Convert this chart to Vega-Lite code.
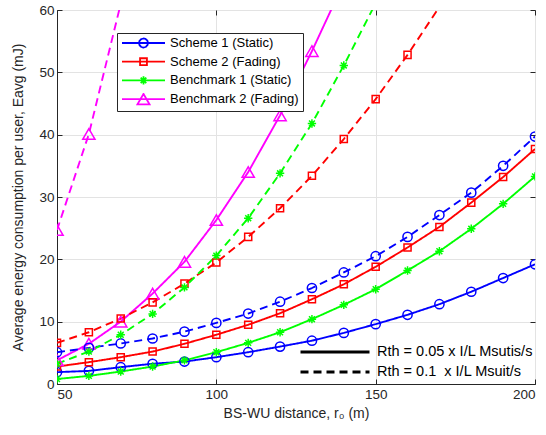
{
  "$schema": "https://vega.github.io/schema/vega-lite/v6.json",
  "autosize": "none",
  "width": 478,
  "height": 374,
  "padding": {"left": 57, "top": 10, "right": 11, "bottom": 51},
  "background": "white",
  "config": {
    "font": "Liberation Sans",
    "view": {"stroke": "#262626", "strokeWidth": 1},
    "axis": {
      "labelColor": "#262626", "titleColor": "#262626", "domainColor": "#262626", "tickColor": "#262626",
      "gridColor": "#e3e3e3", "titleFontWeight": "normal", "labelFontSize": 13.5, "titleFontSize": 14,
      "labelFont": "Liberation Sans", "titleFont": "Liberation Sans"
    },
    "legend": {"labelFont": "Liberation Sans"}
  },
  "resolve": {"axis": {"x": "independent", "y": "independent"}},
  "data": {"values": [
    {"x": 50, "y": 1.9, "s": "Scheme 1 (Static)", "r": "Rth = 0.05 x I/L Msutis/s"},
    {"x": 60, "y": 2.1, "s": "Scheme 1 (Static)", "r": "Rth = 0.05 x I/L Msutis/s"},
    {"x": 70, "y": 2.7, "s": "Scheme 1 (Static)", "r": "Rth = 0.05 x I/L Msutis/s"},
    {"x": 80, "y": 3.25, "s": "Scheme 1 (Static)", "r": "Rth = 0.05 x I/L Msutis/s"},
    {"x": 90, "y": 3.6, "s": "Scheme 1 (Static)", "r": "Rth = 0.05 x I/L Msutis/s"},
    {"x": 100, "y": 4.3, "s": "Scheme 1 (Static)", "r": "Rth = 0.05 x I/L Msutis/s"},
    {"x": 110, "y": 5.1, "s": "Scheme 1 (Static)", "r": "Rth = 0.05 x I/L Msutis/s"},
    {"x": 120, "y": 6.0, "s": "Scheme 1 (Static)", "r": "Rth = 0.05 x I/L Msutis/s"},
    {"x": 130, "y": 6.95, "s": "Scheme 1 (Static)", "r": "Rth = 0.05 x I/L Msutis/s"},
    {"x": 140, "y": 8.2, "s": "Scheme 1 (Static)", "r": "Rth = 0.05 x I/L Msutis/s"},
    {"x": 150, "y": 9.6, "s": "Scheme 1 (Static)", "r": "Rth = 0.05 x I/L Msutis/s"},
    {"x": 160, "y": 11.1, "s": "Scheme 1 (Static)", "r": "Rth = 0.05 x I/L Msutis/s"},
    {"x": 170, "y": 12.8, "s": "Scheme 1 (Static)", "r": "Rth = 0.05 x I/L Msutis/s"},
    {"x": 180, "y": 14.8, "s": "Scheme 1 (Static)", "r": "Rth = 0.05 x I/L Msutis/s"},
    {"x": 190, "y": 17.0, "s": "Scheme 1 (Static)", "r": "Rth = 0.05 x I/L Msutis/s"},
    {"x": 200, "y": 19.2, "s": "Scheme 1 (Static)", "r": "Rth = 0.05 x I/L Msutis/s"},

    {"x": 50, "y": 2.8, "s": "Scheme 2 (Fading)", "r": "Rth = 0.05 x I/L Msutis/s"},
    {"x": 60, "y": 3.5, "s": "Scheme 2 (Fading)", "r": "Rth = 0.05 x I/L Msutis/s"},
    {"x": 70, "y": 4.3, "s": "Scheme 2 (Fading)", "r": "Rth = 0.05 x I/L Msutis/s"},
    {"x": 80, "y": 5.2, "s": "Scheme 2 (Fading)", "r": "Rth = 0.05 x I/L Msutis/s"},
    {"x": 90, "y": 6.45, "s": "Scheme 2 (Fading)", "r": "Rth = 0.05 x I/L Msutis/s"},
    {"x": 100, "y": 7.9, "s": "Scheme 2 (Fading)", "r": "Rth = 0.05 x I/L Msutis/s"},
    {"x": 110, "y": 9.5, "s": "Scheme 2 (Fading)", "r": "Rth = 0.05 x I/L Msutis/s"},
    {"x": 120, "y": 11.35, "s": "Scheme 2 (Fading)", "r": "Rth = 0.05 x I/L Msutis/s"},
    {"x": 130, "y": 13.6, "s": "Scheme 2 (Fading)", "r": "Rth = 0.05 x I/L Msutis/s"},
    {"x": 140, "y": 16.0, "s": "Scheme 2 (Fading)", "r": "Rth = 0.05 x I/L Msutis/s"},
    {"x": 150, "y": 18.8, "s": "Scheme 2 (Fading)", "r": "Rth = 0.05 x I/L Msutis/s"},
    {"x": 160, "y": 21.9, "s": "Scheme 2 (Fading)", "r": "Rth = 0.05 x I/L Msutis/s"},
    {"x": 170, "y": 25.2, "s": "Scheme 2 (Fading)", "r": "Rth = 0.05 x I/L Msutis/s"},
    {"x": 180, "y": 29.1, "s": "Scheme 2 (Fading)", "r": "Rth = 0.05 x I/L Msutis/s"},
    {"x": 190, "y": 33.2, "s": "Scheme 2 (Fading)", "r": "Rth = 0.05 x I/L Msutis/s"},
    {"x": 200, "y": 37.7, "s": "Scheme 2 (Fading)", "r": "Rth = 0.05 x I/L Msutis/s"},

    {"x": 50, "y": 0.8, "s": "Benchmark 1 (Static)", "r": "Rth = 0.05 x I/L Msutis/s"},
    {"x": 60, "y": 1.3, "s": "Benchmark 1 (Static)", "r": "Rth = 0.05 x I/L Msutis/s"},
    {"x": 70, "y": 2.0, "s": "Benchmark 1 (Static)", "r": "Rth = 0.05 x I/L Msutis/s"},
    {"x": 80, "y": 2.8, "s": "Benchmark 1 (Static)", "r": "Rth = 0.05 x I/L Msutis/s"},
    {"x": 90, "y": 3.8, "s": "Benchmark 1 (Static)", "r": "Rth = 0.05 x I/L Msutis/s"},
    {"x": 100, "y": 5.1, "s": "Benchmark 1 (Static)", "r": "Rth = 0.05 x I/L Msutis/s"},
    {"x": 110, "y": 6.6, "s": "Benchmark 1 (Static)", "r": "Rth = 0.05 x I/L Msutis/s"},
    {"x": 120, "y": 8.3, "s": "Benchmark 1 (Static)", "r": "Rth = 0.05 x I/L Msutis/s"},
    {"x": 130, "y": 10.4, "s": "Benchmark 1 (Static)", "r": "Rth = 0.05 x I/L Msutis/s"},
    {"x": 140, "y": 12.7, "s": "Benchmark 1 (Static)", "r": "Rth = 0.05 x I/L Msutis/s"},
    {"x": 150, "y": 15.2, "s": "Benchmark 1 (Static)", "r": "Rth = 0.05 x I/L Msutis/s"},
    {"x": 160, "y": 18.2, "s": "Benchmark 1 (Static)", "r": "Rth = 0.05 x I/L Msutis/s"},
    {"x": 170, "y": 21.3, "s": "Benchmark 1 (Static)", "r": "Rth = 0.05 x I/L Msutis/s"},
    {"x": 180, "y": 24.9, "s": "Benchmark 1 (Static)", "r": "Rth = 0.05 x I/L Msutis/s"},
    {"x": 190, "y": 28.9, "s": "Benchmark 1 (Static)", "r": "Rth = 0.05 x I/L Msutis/s"},
    {"x": 200, "y": 33.3, "s": "Benchmark 1 (Static)", "r": "Rth = 0.05 x I/L Msutis/s"},

    {"x": 50, "y": 3.8, "s": "Benchmark 2 (Fading)", "r": "Rth = 0.05 x I/L Msutis/s"},
    {"x": 60, "y": 6.45, "s": "Benchmark 2 (Fading)", "r": "Rth = 0.05 x I/L Msutis/s"},
    {"x": 70, "y": 10.0, "s": "Benchmark 2 (Fading)", "r": "Rth = 0.05 x I/L Msutis/s"},
    {"x": 80, "y": 14.5, "s": "Benchmark 2 (Fading)", "r": "Rth = 0.05 x I/L Msutis/s"},
    {"x": 90, "y": 19.6, "s": "Benchmark 2 (Fading)", "r": "Rth = 0.05 x I/L Msutis/s"},
    {"x": 100, "y": 26.3, "s": "Benchmark 2 (Fading)", "r": "Rth = 0.05 x I/L Msutis/s"},
    {"x": 110, "y": 34.0, "s": "Benchmark 2 (Fading)", "r": "Rth = 0.05 x I/L Msutis/s"},
    {"x": 120, "y": 43.1, "s": "Benchmark 2 (Fading)", "r": "Rth = 0.05 x I/L Msutis/s"},
    {"x": 130, "y": 53.4, "s": "Benchmark 2 (Fading)", "r": "Rth = 0.05 x I/L Msutis/s"},
    {"x": 140, "y": 64.4, "s": "Benchmark 2 (Fading)", "r": "Rth = 0.05 x I/L Msutis/s"},

    {"x": 50, "y": 5.1, "s": "Scheme 1 (Static)", "r": "Rth = 0.1\u00a0\u00a0x I/L Msuit/s"},
    {"x": 60, "y": 5.8, "s": "Scheme 1 (Static)", "r": "Rth = 0.1\u00a0\u00a0x I/L Msuit/s"},
    {"x": 70, "y": 6.5, "s": "Scheme 1 (Static)", "r": "Rth = 0.1\u00a0\u00a0x I/L Msuit/s"},
    {"x": 80, "y": 7.3, "s": "Scheme 1 (Static)", "r": "Rth = 0.1\u00a0\u00a0x I/L Msuit/s"},
    {"x": 90, "y": 8.4, "s": "Scheme 1 (Static)", "r": "Rth = 0.1\u00a0\u00a0x I/L Msuit/s"},
    {"x": 100, "y": 9.8, "s": "Scheme 1 (Static)", "r": "Rth = 0.1\u00a0\u00a0x I/L Msuit/s"},
    {"x": 110, "y": 11.3, "s": "Scheme 1 (Static)", "r": "Rth = 0.1\u00a0\u00a0x I/L Msuit/s"},
    {"x": 120, "y": 13.2, "s": "Scheme 1 (Static)", "r": "Rth = 0.1\u00a0\u00a0x I/L Msuit/s"},
    {"x": 130, "y": 15.4, "s": "Scheme 1 (Static)", "r": "Rth = 0.1\u00a0\u00a0x I/L Msuit/s"},
    {"x": 140, "y": 17.9, "s": "Scheme 1 (Static)", "r": "Rth = 0.1\u00a0\u00a0x I/L Msuit/s"},
    {"x": 150, "y": 20.5, "s": "Scheme 1 (Static)", "r": "Rth = 0.1\u00a0\u00a0x I/L Msuit/s"},
    {"x": 160, "y": 23.6, "s": "Scheme 1 (Static)", "r": "Rth = 0.1\u00a0\u00a0x I/L Msuit/s"},
    {"x": 170, "y": 27.1, "s": "Scheme 1 (Static)", "r": "Rth = 0.1\u00a0\u00a0x I/L Msuit/s"},
    {"x": 180, "y": 30.7, "s": "Scheme 1 (Static)", "r": "Rth = 0.1\u00a0\u00a0x I/L Msuit/s"},
    {"x": 190, "y": 35.0, "s": "Scheme 1 (Static)", "r": "Rth = 0.1\u00a0\u00a0x I/L Msuit/s"},
    {"x": 200, "y": 39.7, "s": "Scheme 1 (Static)", "r": "Rth = 0.1\u00a0\u00a0x I/L Msuit/s"},

    {"x": 50, "y": 6.6, "s": "Scheme 2 (Fading)", "r": "Rth = 0.1\u00a0\u00a0x I/L Msuit/s"},
    {"x": 60, "y": 8.3, "s": "Scheme 2 (Fading)", "r": "Rth = 0.1\u00a0\u00a0x I/L Msuit/s"},
    {"x": 70, "y": 10.5, "s": "Scheme 2 (Fading)", "r": "Rth = 0.1\u00a0\u00a0x I/L Msuit/s"},
    {"x": 80, "y": 13.1, "s": "Scheme 2 (Fading)", "r": "Rth = 0.1\u00a0\u00a0x I/L Msuit/s"},
    {"x": 90, "y": 16.1, "s": "Scheme 2 (Fading)", "r": "Rth = 0.1\u00a0\u00a0x I/L Msuit/s"},
    {"x": 100, "y": 19.5, "s": "Scheme 2 (Fading)", "r": "Rth = 0.1\u00a0\u00a0x I/L Msuit/s"},
    {"x": 110, "y": 23.6, "s": "Scheme 2 (Fading)", "r": "Rth = 0.1\u00a0\u00a0x I/L Msuit/s"},
    {"x": 120, "y": 28.2, "s": "Scheme 2 (Fading)", "r": "Rth = 0.1\u00a0\u00a0x I/L Msuit/s"},
    {"x": 130, "y": 33.4, "s": "Scheme 2 (Fading)", "r": "Rth = 0.1\u00a0\u00a0x I/L Msuit/s"},
    {"x": 140, "y": 39.3, "s": "Scheme 2 (Fading)", "r": "Rth = 0.1\u00a0\u00a0x I/L Msuit/s"},
    {"x": 150, "y": 45.7, "s": "Scheme 2 (Fading)", "r": "Rth = 0.1\u00a0\u00a0x I/L Msuit/s"},
    {"x": 160, "y": 52.8, "s": "Scheme 2 (Fading)", "r": "Rth = 0.1\u00a0\u00a0x I/L Msuit/s"},
    {"x": 170, "y": 60.5, "s": "Scheme 2 (Fading)", "r": "Rth = 0.1\u00a0\u00a0x I/L Msuit/s"},

    {"x": 50, "y": 3.25, "s": "Benchmark 1 (Static)", "r": "Rth = 0.1\u00a0\u00a0x I/L Msuit/s"},
    {"x": 60, "y": 5.2, "s": "Benchmark 1 (Static)", "r": "Rth = 0.1\u00a0\u00a0x I/L Msuit/s"},
    {"x": 70, "y": 7.9, "s": "Benchmark 1 (Static)", "r": "Rth = 0.1\u00a0\u00a0x I/L Msuit/s"},
    {"x": 80, "y": 11.25, "s": "Benchmark 1 (Static)", "r": "Rth = 0.1\u00a0\u00a0x I/L Msuit/s"},
    {"x": 90, "y": 15.5, "s": "Benchmark 1 (Static)", "r": "Rth = 0.1\u00a0\u00a0x I/L Msuit/s"},
    {"x": 100, "y": 20.6, "s": "Benchmark 1 (Static)", "r": "Rth = 0.1\u00a0\u00a0x I/L Msuit/s"},
    {"x": 110, "y": 26.6, "s": "Benchmark 1 (Static)", "r": "Rth = 0.1\u00a0\u00a0x I/L Msuit/s"},
    {"x": 120, "y": 33.8, "s": "Benchmark 1 (Static)", "r": "Rth = 0.1\u00a0\u00a0x I/L Msuit/s"},
    {"x": 130, "y": 41.8, "s": "Benchmark 1 (Static)", "r": "Rth = 0.1\u00a0\u00a0x I/L Msuit/s"},
    {"x": 140, "y": 51.1, "s": "Benchmark 1 (Static)", "r": "Rth = 0.1\u00a0\u00a0x I/L Msuit/s"},
    {"x": 150, "y": 61.1, "s": "Benchmark 1 (Static)", "r": "Rth = 0.1\u00a0\u00a0x I/L Msuit/s"},

    {"x": 50, "y": 24.7, "s": "Benchmark 2 (Fading)", "r": "Rth = 0.1\u00a0\u00a0x I/L Msuit/s"},
    {"x": 60, "y": 40.1, "s": "Benchmark 2 (Fading)", "r": "Rth = 0.1\u00a0\u00a0x I/L Msuit/s"},
    {"x": 70, "y": 61.0, "s": "Benchmark 2 (Fading)", "r": "Rth = 0.1\u00a0\u00a0x I/L Msuit/s"}
  ]},
  "layer": [
    {
      "mark": {"type": "line", "strokeWidth": 1.9, "clip": true, "strokeJoin": "round"},
      "encoding": {
        "x": {"field": "x", "type": "quantitative", "scale": {"domain": [50, 200], "nice": false, "zero": false},
          "axis": {"values": [50, 100, 150, 200], "title": "BS-WU distance, r\u2080 (m)", "tickSize": -5, "labelPadding": 8, "titlePadding": 6, "grid": true}},
        "y": {"field": "y", "type": "quantitative", "scale": {"domain": [0, 60], "nice": false},
          "axis": {"values": [0, 10, 20, 30, 40, 50, 60], "title": "Average energy consumption per user, Eavg (mJ)", "tickSize": -5, "labelPadding": 8, "titlePadding": 13, "grid": true}},
        "color": {"field": "s", "type": "nominal",
          "scale": {"domain": ["Scheme 1 (Static)", "Scheme 2 (Fading)", "Benchmark 1 (Static)", "Benchmark 2 (Fading)"], "range": ["#0000ff", "#ff0000", "#00ff00", "#ff00ff"]},
          "legend": {"orient": "none", "legendX": 60, "legendY": 23, "title": null, "padding": 4, "strokeColor": "#262626", "fillColor": "white",
            "symbolType": "stroke", "symbolSize": 1849, "symbolStrokeWidth": 1.8, "clipHeight": 12, "rowPadding": 5.7,
            "labelFontSize": 13, "labelOffset": 4, "labelColor": "black", "labelLimit": 300,
            "encode": {"symbols": {"update": {
              "shape": {"signal": "['M-1,0H1M0.21,0L0.182,0.105L0.105,0.182L0,0.21L-0.105,0.182L-0.182,0.105L-0.21,0L-0.182,-0.105L-0.105,-0.182L0,-0.21L0.105,-0.182L0.182,-0.105Z', 'M-1,0H1M-0.16,-0.16H0.16V0.16H-0.16Z', 'M-1,0H1M0,-0.19V0.19M-0.13,-0.13L0.13,0.13M-0.13,0.13L0.13,-0.13', 'M-1,0H1M0,-0.2425L0.28,0.2425H-0.28Z'][datum.index]"},
              "fill": {"value": "transparent"},
              "strokeDash": {"value": [1, 0]}
            }}}}},
        "strokeDash": {"field": "r", "type": "nominal",
          "scale": {"domain": ["Rth = 0.05 x I/L Msutis/s", "Rth = 0.1\u00a0\u00a0x I/L Msuit/s"], "range": [[1, 0], [8, 5]]},
          "legend": {"orient": "none", "legendX": 242, "legendY": 335, "title": null, "padding": 0,
            "symbolType": "stroke", "symbolSize": 4761, "symbolStrokeWidth": 3, "symbolStrokeColor": "black",
            "clipHeight": 14, "rowPadding": 5, "labelFontSize": 14.5, "labelOffset": 6, "labelColor": "black", "labelLimit": 300,
            "encode": {"symbols": {"update": {
              "strokeDash": {"signal": "datum.index === 0 ? [1, 0] : [10, 7]"},
              "stroke": {"value": "black"}
            }}}}}
      }
    },
    {
      "transform": [{"filter": "datum.y <= 60"}],
      "mark": {"type": "point", "filled": false, "strokeWidth": 1.5, "clip": true, "opacity": 1},
      "encoding": {
        "x": {"field": "x", "type": "quantitative", "axis": null},
        "y": {"field": "y", "type": "quantitative", "axis": null},
        "color": {"field": "s", "type": "nominal", "legend": null},
        "shape": {"field": "s", "type": "nominal",
          "scale": {"domain": ["Benchmark 2 (Fading)", "Benchmark 1 (Static)", "Scheme 2 (Fading)", "Scheme 1 (Static)"],
            "range": ["triangle-up", "M-1,0H1M0,-1V1M-0.7,-0.7L0.7,0.7M-0.7,0.7L0.7,-0.7", "square", "circle"]},
          "legend": null},
        "size": {"field": "s", "type": "nominal",
          "scale": {"type": "ordinal", "domain": ["Scheme 2 (Fading)", "Benchmark 2 (Fading)", "Scheme 1 (Static)", "Benchmark 1 (Static)"], "range": [50, 150, 85, 70]},
          "legend": null}
      }
    },
    {
      "mark": {"type": "point", "opacity": 0},
      "encoding": {
        "x": {"field": "x", "type": "quantitative",
          "axis": {"orient": "top", "values": [50, 100, 150, 200], "labels": false, "title": null, "grid": false, "domain": false, "tickSize": -5}},
        "y": {"field": "y", "type": "quantitative",
          "axis": {"orient": "right", "values": [0, 10, 20, 30, 40, 50, 60], "labels": false, "title": null, "grid": false, "domain": false, "tickSize": -5}}
      }
    }
  ]
}
